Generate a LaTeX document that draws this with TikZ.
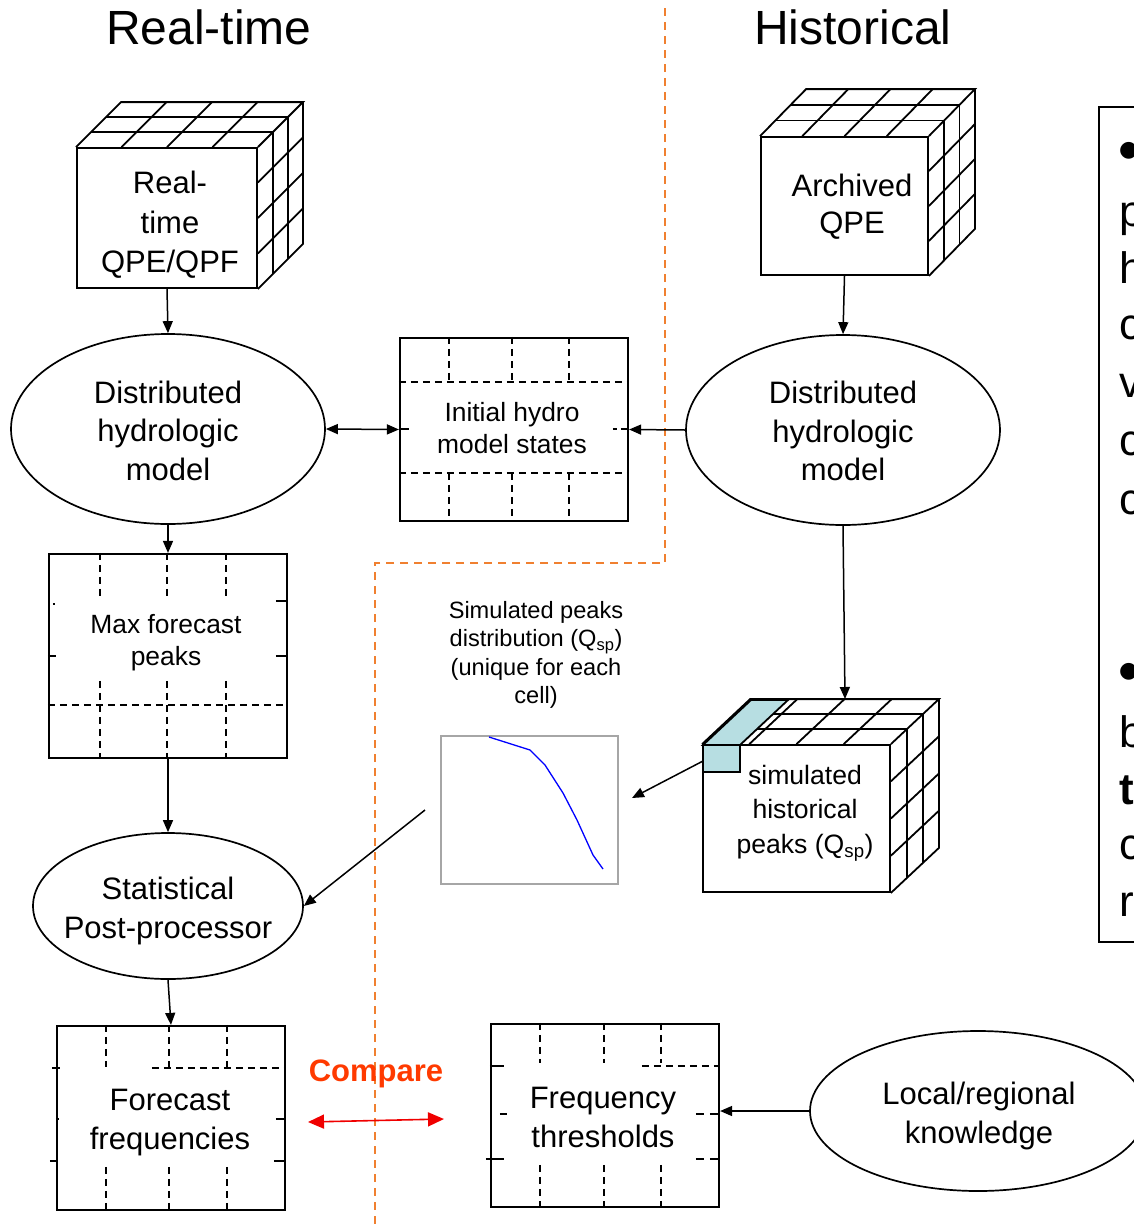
\documentclass[tikz,border=0pt]{standalone}
\usepackage{fontspec}
\setmainfont{Liberation Sans}
\newfontfamily\symfont{DejaVu Sans}
\usetikzlibrary{shapes.geometric,arrows.meta,calc}

\definecolor{divorange}{RGB}{240,128,48}
\definecolor{cmpred}{RGB}{255,58,0}
\definecolor{arrred}{RGB}{240,0,0}
\definecolor{cellblue}{RGB}{183,222,226}

\tikzset{
  titletxt/.style={font=\fontsize{48}{56}\selectfont},
  bigtxt/.style={font=\fontsize{31}{38.5}\selectfont, align=center},
  midtxt/.style={font=\fontsize{26.4}{32}\selectfont, align=center},
  smalltxt/.style={font=\fontsize{23.6}{28.5}\selectfont, align=center},
  sidetxt/.style={font=\fontsize{44}{50}\selectfont, anchor=west, inner sep=0pt},
  cubeface/.style={draw, line width=1.8pt, inner sep=0pt},
  cubeline/.style={line width=1.8pt},
  hydro/.style={ellipse, draw, line width=1.7pt, inner sep=0pt},
  gridbox/.style={draw, line width=2.2pt, inner sep=0pt},
  griddash/.style={line width=1.6pt, dash pattern=on 7pt off 5pt},
  gridstub/.style={line width=1.6pt},
  arr/.style={line width=1.5pt, -{Triangle[length=12pt,width=10pt]}},
  arrboth/.style={line width=1.5pt, {Triangle[length=12pt,width=10pt]}-{Triangle[length=12pt,width=10pt]}},
}

% grid cube: front face node #1, depth offset #2 right and #3 up
\newcommand\gridcube[3]{%
  \path (#1.north west) coordinate (#1-a)
        (#1.north east) coordinate (#1-b)
        (#1.south east) coordinate (#1-c);
  \draw[cubeline] (#1-a) -- ++(#2,-#3) -- ($(#1-b)+(#2,-#3)$) -- (#1-b);
  \draw[cubeline] ($(#1-b)+(#2,-#3)$) -- ($(#1-c)+(#2,-#3)$) -- (#1-c);
  \foreach \t in {0.25,0.5,0.75} {
    \draw[cubeline] ($(#1-a)!\t!(#1-b)$) -- ++(#2,-#3);
    \draw[cubeline] ($(#1-b)!\t!(#1-c)$) -- ++(#2,-#3);
  }
  \foreach \t in {0.3333,0.6667} {
    \draw[cubeline] ($(#1-a)+\t*(#2,-#3)$) -- ($(#1-b)+\t*(#2,-#3)$) -- ($(#1-c)+\t*(#2,-#3)$);
  }
}

\begin{document}
\begin{tikzpicture}[x=1pt,y=-1pt]
\useasboundingbox (0,0) rectangle (1134,1229);
\clip (0,0) rectangle (1134,1229);

% column titles
\node[titletxt] (ttlRT) at (209,27) {Real-time};
\node[titletxt] (ttlHI) at (853,27) {Historical};

% divider between the real-time and historical sides
\draw[divorange, line width=1.6pt, dash pattern=on 8pt off 6pt]
  (665,8) -- (665,563) -- (375,563) -- (375,1229);

% input cubes
\node[cubeface, minimum width=180pt, minimum height=140pt] (cubeRT) at (167,218) {};
\gridcube{cubeRT}{45}{45}
\node[bigtxt, font=\fontsize{31}{39.5}\selectfont] (cubeRTt) at (170,225) {Real-\\time\\QPE/QPF};

\node[cubeface, minimum width=167pt, minimum height=138pt] (cubeAR) at (844.5,206) {};
\gridcube{cubeAR}{46}{47}
\node[bigtxt, font=\fontsize{31}{37}\selectfont] (cubeARt) at (852,207) {Archived\\QPE};

% hydrologic models
\node[hydro, minimum width=314pt, minimum height=190pt] (ellRT) at (168,429) {};
\node[bigtxt] (ellRTt) at (168,430.5) {Distributed\\hydrologic\\model};
\node[hydro, minimum width=314pt, minimum height=190pt] (ellAR) at (843,430) {};
\node[bigtxt] (ellARt) at (843,431) {Distributed\\hydrologic\\model};

% initial states grid
\node[gridbox, minimum width=228pt, minimum height=183pt] (init) at (514,429.5) {};
\node[midtxt] (initt) at (512,428) {Initial hydro\\model states};
\begin{scope}[shift={(init.north west)}]
  \foreach \xx in {50,113,170} {
    \draw[griddash] (\xx,0) -- (\xx,45);
    \draw[griddash] (\xx,136) -- (\xx,183);
  }
  \draw[griddash] (0,45) -- (228,45);
  \draw[griddash] (0,136) -- (228,136);
  \draw[gridstub] (0,92) -- (10,92);
  \draw[gridstub] (214,92) -- (218,92) (222,92) -- (228,92);
\end{scope}

% max forecast peaks grid
\node[gridbox, minimum width=238pt, minimum height=204pt] (maxpk) at (168,656) {};
\node[midtxt] (maxpkt) at (166,643) {Max forecast\\peaks};
\begin{scope}[shift={(maxpk.north west)}]
  \foreach \xx in {52,119,178} {
    \draw[griddash] (\xx,0) -- (\xx,45);
    \draw[griddash] (\xx,128) -- (\xx,204);
  }
  \draw[griddash] (0,152) -- (238,152);
  \draw[gridstub] (5,51) -- (7,51) (228,48) -- (238,48);
  \draw[gridstub] (0,103) -- (8,103) (228,103) -- (238,103);
\end{scope}

% simulated historical peaks cube
\node[cubeface, minimum width=187pt, minimum height=147pt] (simcube) at (796.5,818.5) {};
\gridcube{simcube}{48}{45}
\filldraw[fill=cellblue, line width=1.8pt] (703,745) -- (740,745) -- (788,700) -- (751,700) -- cycle;
\filldraw[fill=cellblue, line width=1.8pt] (703,745) rectangle (740,772);
\node[midtxt, font=\fontsize{26.6}{34.5}\selectfont] (simcubet) at (805,813)
  {simulated\\historical\\peaks (Q\textsubscript{sp})};
\coordinate (simtop) at (845,699);
\coordinate (simcell) at (703,761);

% distribution chart
\node[smalltxt] (chartcap) at (536,655)
  {Simulated peaks\\distribution (Q\textsubscript{sp})\\(unique for each\\cell)};
\node[draw=gray!70, line width=1.2pt, minimum width=177pt, minimum height=148pt, inner sep=0pt] (chart) at (529.5,810) {};
\draw[blue, line width=1.3pt] plot coordinates
  {(489,737) (530,750) (545,765) (563,793) (577,820) (593,855) (603,869)};
\coordinate (chartin) at (632,798);
\coordinate (chartout) at (425,810);

% post-processing and outputs
\node[hydro, minimum width=270pt, minimum height=146pt] (stat) at (168,906) {};
\node[bigtxt] (statt) at (168,911) {Statistical\\Post-processor};

\node[gridbox, minimum width=228pt, minimum height=184pt] (fcst) at (171,1118) {};
\node[bigtxt] (fcstt) at (170,1122.5) {Forecast\\frequencies};
\begin{scope}[shift={(fcst.north west)}]
  \foreach \xx in {50,113,171} {
    \draw[griddash] (\xx,0) -- (\xx,42);
    \draw[griddash] (\xx,142) -- (\xx,184);
  }
  \draw[griddash] (96,43) -- (228,43);
  \draw[gridstub] (-4,43) -- (4,43);
  \draw[gridstub] (0,94) -- (3,94) (220,94) -- (228,94);
  \draw[gridstub] (-6,136) -- (2,136) (218,136) -- (228,136);
\end{scope}

\node[gridbox, minimum width=228pt, minimum height=183pt] (thr) at (605,1115.5) {};
\node[bigtxt] (thrt) at (603,1117.5) {Frequency\\thresholds};
\begin{scope}[shift={(thr.north west)}]
  \foreach \xx in {50,114,171} {
    \draw[griddash] (\xx,0) -- (\xx,40);
    \draw[griddash] (\xx,142) -- (\xx,183);
  }
  \draw[griddash] (152,43) -- (228,43);
  \draw[gridstub] (0,43) -- (14,43);
  \draw[gridstub] (10,91) -- (17,91) (206,91) -- (214,91) (220,91) -- (228,91);
  \draw[gridstub] (-4,136) -- (14,136) (206,136) -- (214,136) (220,136) -- (228,136);
\end{scope}

\node[hydro, minimum width=336pt, minimum height=160pt] (local) at (978,1111) {};
\node[bigtxt] (localt) at (979,1116) {Local/regional\\knowledge};

% comparison
\node[font=\bfseries\fontsize{31}{36}\selectfont, text=cmpred] (cmplbl) at (376,1074) {Compare};
\coordinate (cmpL) at (308,1122);
\coordinate (cmpR) at (444,1119);
\draw[arrred, line width=1.6pt,
  {Triangle[length=16pt,width=14pt]}-{Triangle[length=16pt,width=14pt]}] (cmpL) -- (cmpR);

% side notes panel
\draw[line width=1.4pt] (1099,107) rectangle (1200,942);
\node[font=\symfont\fontsize{22}{22}\selectfont, anchor=west, inner sep=0pt] (bul1) at (1119,151) {●};
\node[font=\symfont\fontsize{22}{22}\selectfont, anchor=west, inner sep=0pt] (bul2) at (1119,672) {●};
\foreach \n/\yy/\s in {2/219/p, 3/268/h, 4/328/c, 5/386/v,
                       6/444/c, 7/503/c, 9/732/b,
                       10/790/{\textbf{t}}, 11/848/c, 12/905/r} {
  \node[sidetxt] (note\n) at (1119,\yy) {\s};
}

% connectors
\draw[arr] (cubeRT.south) -- (ellRT.north);
\draw[arr] (cubeAR.south) -- (ellAR.north);
\draw[arrboth] (ellRT.east) -- (init.west);
\draw[arr] (ellAR.west) -- (init.east);
\draw[arr] (ellRT.south) -- (maxpk.north);
\draw[arr] (maxpk.south) -- (stat.north);
\draw[arr] (ellAR.south) -- (simtop);
\draw[arr] (simcell) -- (chartin);
\draw[arr] (chartout) -- (stat.east);
\draw[arr] (stat.south) -- (fcst.north);
\draw[arr] (local.west) -- (local.west -| thr.east);
\end{tikzpicture}
\end{document}
